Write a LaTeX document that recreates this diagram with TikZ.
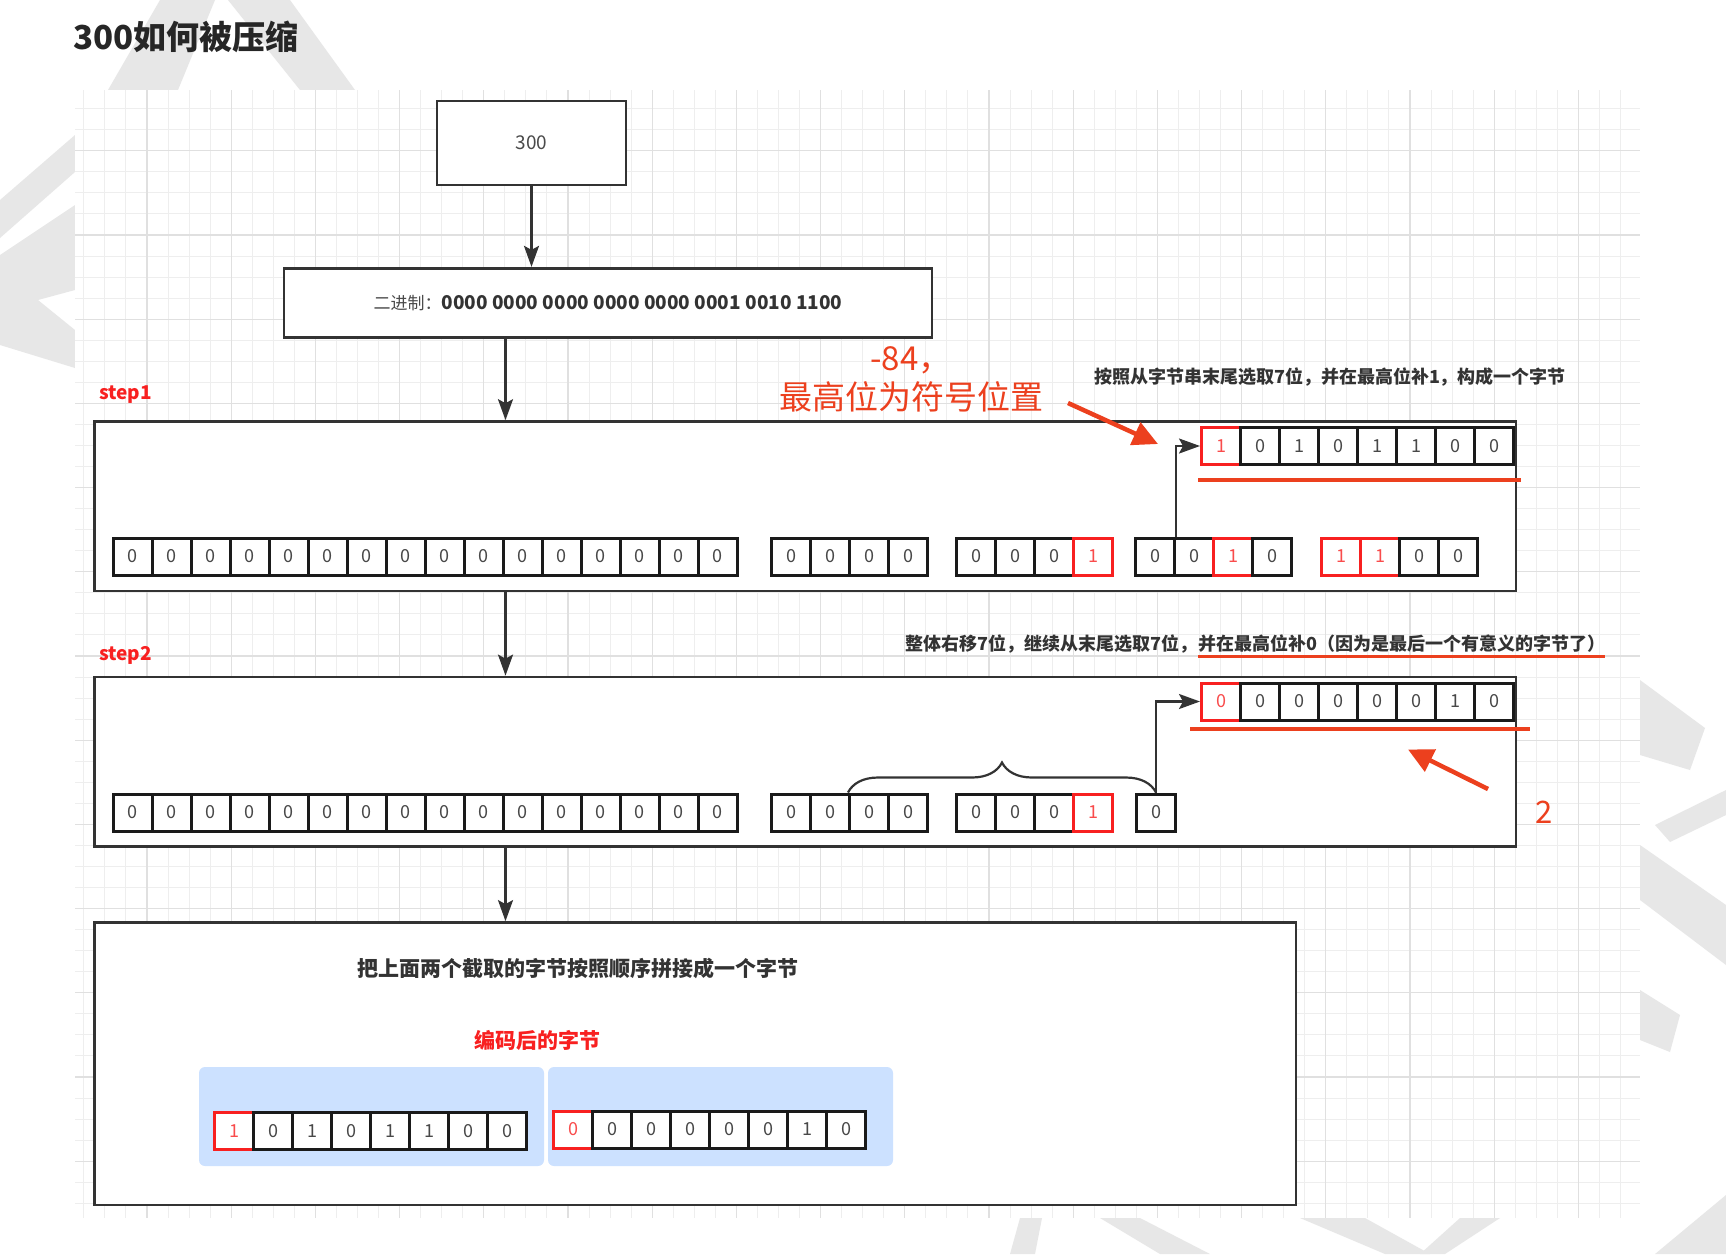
\documentclass[tikz,border=0pt]{standalone}
\usepackage{fontspec}
\setmainfont{Noto Sans CJK SC}
\usetikzlibrary{arrows.meta,decorations.pathreplacing}

\definecolor{ink}{HTML}{333333}
\definecolor{softink}{HTML}{4A4A4A}
\definecolor{titleink}{HTML}{262626}
\definecolor{bitk}{HTML}{1A1A1A}
\definecolor{anno}{RGB}{236,64,30}
\definecolor{hired}{RGB}{248,32,32}
\definecolor{paleblue}{RGB}{204,225,255}
\definecolor{gridminor}{RGB}{238,238,238}
\definecolor{gridmajor}{RGB}{224,224,224}
\definecolor{wmark}{RGB}{231,231,231}

\newcommand\fs[1]{\fontsize{#1}{#1}\selectfont}

% a row of bit cells: name prefix, left x, top y, list of value/colour
\newcommand\bitrow[4]{%
  \foreach \v/\c [count=\i] in {#4}
    \node[cellbase, draw=\c, text=\c!80!white] (#1-\i) at ({#2+(\i-1)*39},#3) {\v};
}

\begin{document}
\begin{tikzpicture}[x=1pt,y=-1pt,
  box/.style={draw=ink, line width=2.8pt, fill=white, inner sep=0pt},
  cellbase/.style={line width=3pt, minimum width=39pt, minimum height=37pt,
    inner sep=0pt, anchor=north west, fill=white, font=\fs{18}},
  arr/.style={draw=ink, line width=2.2pt, -{Stealth[length=21pt,width=15pt,inset=4pt]}},
  redarr/.style={draw=anno, line width=4.5pt, -{Triangle[length=25pt,width=24pt]}},
  steplabel/.style={text=hired, font=\fs{19}\bfseries, anchor=west, inner sep=0pt},
  note/.style={text=ink, font=\fs{18}\bfseries, inner sep=0pt},
  ul/.style={draw=anno, line width=4pt},
  gridline/.style={draw=gridminor, line width=1pt},
  gridbold/.style={draw=gridmajor, line width=1.2pt},
  wm/.style={fill=wmark}]

\useasboundingbox (0,0) rectangle (1726,1254);
\fill[white] (0,0) rectangle (1726,1254);

% faint watermark strokes in the margins
\fill[wm] (108,90) -- (160,0) -- (215,0) -- (178,90) -- cycle;
\fill[wm] (228,0) -- (290,0) -- (355,90) -- (300,90) -- cycle;
\fill[wm] (0,200) -- (75,135) -- (75,172) -- (0,238) -- cycle;
\fill[wm] (0,255) -- (75,205) -- (75,290) -- (38,300) -- (75,330) -- (75,368) -- (0,345) -- cycle;
\fill[wm] (1640,680) -- (1705,728) -- (1690,770) -- (1640,755) -- cycle;
\fill[wm] (1655,825) -- (1726,790) -- (1726,815) -- (1670,842) -- cycle;
\fill[wm] (1640,845) -- (1726,905) -- (1726,965) -- (1640,900) -- cycle;
\fill[wm] (1640,990) -- (1680,1015) -- (1670,1052) -- (1640,1040) -- cycle;
\fill[wm] (1655,1254) -- (1726,1195) -- (1726,1254) -- cycle;
\fill[wm] (1020,1218) -- (1042,1218) -- (1035,1254) -- (1010,1254) -- cycle;
\fill[wm] (1100,1218) -- (1140,1218) -- (1210,1254) -- (1160,1254) -- cycle;
\fill[wm] (1300,1218) -- (1365,1218) -- (1430,1254) -- (1385,1254) -- cycle;
\fill[wm] (1460,1218) -- (1500,1218) -- (1445,1254) -- (1420,1254) -- cycle;

% drawing grid
\fill[white] (75,90) rectangle (1640,1218);
\foreach \i in {3,...,76}
  \draw[gridline] ({20.7+21.05*\i},90) -- ({20.7+21.05*\i},1218);
\foreach \j in {5,...,57}
  \draw[gridline] (75,{3.45+21.05*\j}) -- (1640,{3.45+21.05*\j});
\foreach \i in {6,10,...,74}
  \draw[gridbold] ({20.7+21.05*\i},90) -- ({20.7+21.05*\i},1218);
\foreach \j in {7,11,...,55}
  \draw[gridbold] (75,{3.45+21.05*\j}) -- (1640,{3.45+21.05*\j});

% title
\node[anchor=west, inner sep=0pt, text=titleink, font=\fs{33}\bfseries] (title) at (73,37) {300如何被压缩};

% main boxes
\node[box, minimum width=189pt, minimum height=84pt, text=softink, font=\fs{19}] (n300) at (531.5,143) {300};
\node[box, minimum width=648pt, minimum height=69.5pt] (bin) at (608,303)
  {\textcolor{softink}{\fs{17}二进制：}\textcolor{ink}{\fs{19}\bfseries 0000 0000 0000 0000 0000 0001 0010 1100}};
\node[box, minimum width=1421.3pt, minimum height=169.4pt] (stepone) at (805.35,506.3) {};
\node[box, minimum width=1421.3pt, minimum height=169.5pt] (steptwo) at (805.35,761.75) {};
\node[box, minimum width=1201.3pt, minimum height=282.5pt] (merge) at (695.35,1063.75) {};

\node[steplabel] (lbla) at (99,395) {step1};
\node[steplabel] (lblb) at (99,655) {step2};

% flow arrows
\coordinate (spine) at (505.5,0);
\draw[arr] (n300.south) -- (bin.north -| n300.south);
\draw[arr] (bin.south -| spine) -- (stepone.north -| spine);
\draw[arr] (stepone.south -| spine) -- (steptwo.north -| spine);
\draw[arr] (steptwo.south -| spine) -- (merge.north -| spine);

% step 1
\node[note] (noteA) at (1330,377) {按照从字节串末尾选取7位，并在最高位补1，构成一个字节};
\bitrow{sa}{1200}{426}{1/hired,0/bitk,1/bitk,0/bitk,1/bitk,1/bitk,0/bitk,0/bitk}
\bitrow{sb}{111.6}{536.5}{0/bitk,0/bitk,0/bitk,0/bitk,0/bitk,0/bitk,0/bitk,0/bitk,0/bitk,0/bitk,0/bitk,0/bitk,0/bitk,0/bitk,0/bitk,0/bitk}
\bitrow{sc}{770}{536.5}{0/bitk,0/bitk,0/bitk,0/bitk}
\bitrow{sd}{955}{536.5}{0/bitk,0/bitk,0/bitk,1/hired}
\bitrow{se}{1134}{536.5}{0/bitk,0/bitk,1/hired,0/bitk}
\bitrow{sf}{1320}{536.5}{1/hired,1/hired,0/bitk,0/bitk}
\draw[arr] (se-1.north east) |- (sa-1.west);
\draw[ul] ([shift={(-2,14)}]sa-1.south west) -- ([shift={(6,14)}]sa-8.south east);

\node[text=anno, font=\fontsize{33}{39}\selectfont, align=center, inner sep=0pt] (anno84) at (911,379) {-84，\\最高位为符号位置};
\coordinate (ra0) at (1068,403);
\coordinate (ra1) at (1158,444);
\draw[redarr] (ra0) -- (ra1);

% step 2
\node[note, anchor=east] (noteBa) at (1198,644) {整体右移7位，继续从末尾选取7位，};
\node[note, anchor=west] (noteBb) at (noteBa.east) {并在最高位补0（因为是最后一个有意义的字节了）};
\draw[ul, line width=3pt] ([yshift=-3pt]noteBb.south west) -- ([yshift=-3pt]noteBb.south east);
\bitrow{ta}{1200}{681.5}{0/hired,0/bitk,0/bitk,0/bitk,0/bitk,0/bitk,1/bitk,0/bitk}
\bitrow{tb}{111.6}{792.5}{0/bitk,0/bitk,0/bitk,0/bitk,0/bitk,0/bitk,0/bitk,0/bitk,0/bitk,0/bitk,0/bitk,0/bitk,0/bitk,0/bitk,0/bitk,0/bitk}
\bitrow{tc}{770}{792.5}{0/bitk,0/bitk,0/bitk,0/bitk}
\bitrow{td}{955}{792.5}{0/bitk,0/bitk,0/bitk,1/hired}
\bitrow{te}{1135}{792.5}{0/bitk}
\draw[ink, line width=2.2pt, decorate, decoration={brace, amplitude=30pt}] (tc-3.north west) -- (te-1.north);
\draw[arr] (te-1.north) |- (ta-1.west);
\draw[ul] ([shift={(-10,7.5)}]ta-1.south west) -- ([shift={(15,7.5)}]ta-8.south east);
\coordinate (rb0) at (1488,789);
\coordinate (rb1) at (1408,749.5);
\draw[redarr] (rb0) -- (rb1);
\node[text=anno, font=\fs{31}, inner sep=0pt] (two) at (1544,812) {2};

% merged result
\node[note, font=\fs{21}\bfseries] (noteC) at (578,968) {把上面两个截取的字节按照顺序拼接成一个字节};
\node[text=hired, font=\fs{21}\bfseries, inner sep=0pt] (enc) at (537,1040) {编码后的字节};
\node[fill=paleblue, rounded corners=6pt, minimum width=345pt, minimum height=99pt, inner sep=0pt] (bluea) at (371.5,1116.5) {};
\node[fill=paleblue, rounded corners=6pt, minimum width=345pt, minimum height=99pt, inner sep=0pt] (blueb) at (720.5,1116.5) {};
\bitrow{fa}{213}{1111}{1/hired,0/bitk,1/bitk,0/bitk,1/bitk,1/bitk,0/bitk,0/bitk}
\bitrow{fb}{552}{1109.5}{0/hired,0/bitk,0/bitk,0/bitk,0/bitk,0/bitk,1/bitk,0/bitk}

\end{tikzpicture}
\end{document}
